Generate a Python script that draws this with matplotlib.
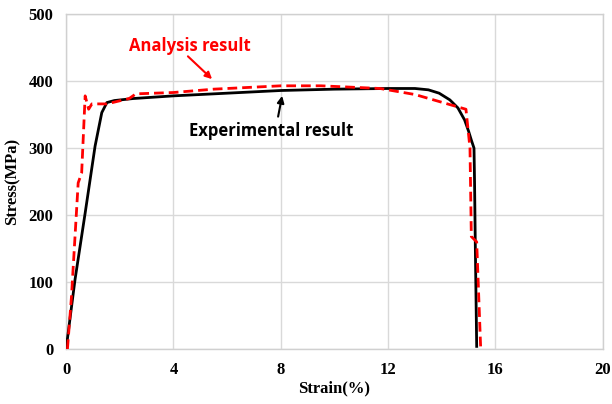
import matplotlib
matplotlib.use("Agg")
import matplotlib.pyplot as plt

# experimental curve (strain %, stress MPa)
exp_strain = [0.0, 0.33, 0.71, 1.08, 1.33, 1.52, 1.8, 2.5, 4.0, 6.0, 8.0, 10.0, 12.0, 13.0,
              13.5, 13.9, 14.3, 14.6, 14.85, 15.0, 15.1, 15.2, 15.22, 15.25, 15.3]
exp_stress = [0.0, 103, 203, 303, 353, 368, 371, 374, 378, 382, 386, 388, 389, 389,
              387, 382, 372, 360, 342, 325, 312, 300, 250, 150, 4]

# analysis curve
ana_strain = [0.05, 0.2, 0.45, 0.58, 0.71, 0.84, 0.96, 1.52, 2.35, 2.6, 4.0, 5.5,
              8.0, 9.5, 11.7, 13.0, 14.9, 15.05, 15.1, 15.3, 15.45]
ana_stress = [0.0, 78, 248, 263, 378, 358, 366, 366, 374, 381, 383, 388,
              393, 393, 389, 380, 358, 300, 168, 160, 0]

FONT = "Liberation Serif"

fig = plt.figure(figsize=(6.12, 4.04), dpi=100)
ax = fig.add_axes([0.108, 0.136, 0.877, 0.829])

ax.plot(exp_strain, exp_stress, color="black", lw=2.0, zorder=3)
ax.plot(ana_strain, ana_stress, color="#ff0000", lw=2.0, ls=(0, (3.5, 1.8)), zorder=4)

ax.set_xlim(0, 20)
ax.set_ylim(0, 500)
ax.set_xticks([0, 4, 8, 12, 16, 20])
ax.set_yticks([0, 100, 200, 300, 400, 500])
ax.grid(color="#d9d9d9", lw=1.0)
ax.set_axisbelow(True)
for s in ax.spines.values():
    s.set_color("#d0d0d0")
    s.set_linewidth(1.0)
ax.tick_params(length=0, pad=9)
for lab in ax.get_xticklabels() + ax.get_yticklabels():
    lab.set_fontfamily(FONT)
    lab.set_fontweight("bold")
    lab.set_fontsize(12)

ax.set_xlabel("Strain(%)", fontfamily=FONT, fontweight="bold", fontsize=12, labelpad=2)
ax.set_ylabel("Stress(MPa)", fontfamily=FONT, fontweight="bold", fontsize=12, labelpad=6)

ax.text(4.6, 453, "Analysis result", color="#ff0000", fontsize=12, fontweight="bold",
        fontfamily="Open Sans", ha="center", va="center")
ax.annotate("", xy=(5.44, 403), xytext=(4.54, 437),
            arrowprops=dict(arrowstyle="-|>", color="#ff0000", lw=1.5, mutation_scale=10,
                            shrinkA=0, shrinkB=0))
ax.text(7.63, 325, "Experimental result", color="black", fontsize=12, fontweight="bold",
        fontfamily="Open Sans", ha="center", va="center")
ax.annotate("", xy=(8.05, 378), xytext=(7.9, 347),
            arrowprops=dict(arrowstyle="-|>", color="black", lw=1.5, mutation_scale=10,
                            shrinkA=0, shrinkB=0))

fig.savefig("out.png", dpi=100)
